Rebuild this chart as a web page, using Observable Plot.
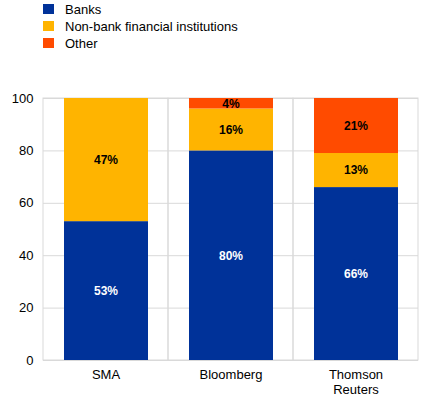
<!DOCTYPE html>
<html><head><meta charset="utf-8">
<script src="https://cdn.jsdelivr.net/npm/d3@7"></script>
<script src="https://cdn.jsdelivr.net/npm/@observablehq/plot@0.6"></script>
<style>
body{margin:0;background:#fff;font-family:"Liberation Sans",Arial,sans-serif;}
#legend{position:relative;height:50px;font-size:13px;color:#000;}
.item{position:absolute;left:43px;display:flex;align-items:center;height:12px;}
.sw{width:11px;height:10px;margin-right:11px;}
</style></head><body>
<div id="legend"></div>
<div id="chart"></div>
<script>
const sources = ["SMA", "Bloomberg", "Thomson\nReuters"];
const seriesNames = ["Banks", "Non-bank financial institutions", "Other"];
const colors = ["#003299", "#ffb400", "#ff4b00"];
const banks = [53, 80, 66];
const nonBank = [47, 16, 13];
const other = [0, 4, 21];
const yTicks = [0, 20, 40, 60, 80, 100];

const values = [banks, nonBank, other];
const data = [];
sources.forEach((s, i) => {
  seriesNames.forEach((n, j) => {
    data.push({source: s, series: n, value: values[j][i]});
  });
});

const legend = document.getElementById("legend");
seriesNames.forEach((n, j) => {
  const d = document.createElement("div");
  d.className = "item";
  d.style.top = (3 + j * 17) + "px";
  d.innerHTML = `<span class="sw" style="background:${colors[j]}"></span><span>${n}</span>`;
  legend.appendChild(d);
});

const frame = sources.map(s => ({source: s}));

const chart = Plot.plot({
  width: 438,
  height: 356,
  marginTop: 48,
  marginBottom: 46,
  marginLeft: 43,
  marginRight: 20,
  style: {fontFamily: "'Liberation Sans', Arial, sans-serif", fontSize: "13px", color: "#000", background: "#fff"},
  x: {domain: sources, padding: 0},
  y: {domain: [0, 100]},
  color: {domain: seriesNames, range: colors},
  marks: [
    Plot.gridY(yTicks, {stroke: "#d9d9d9", strokeOpacity: 1}),
    Plot.barY(frame, {x: "source", y1: 0, y2: 100, fill: "none", stroke: "#d9d9d9", strokeWidth: 1}),
    Plot.barY(data, {x: "source", y: "value", fill: "series", z: "series", insetLeft: 21, insetRight: 20}),
    Plot.text(data, Plot.stackY({
      x: "source", y: "value", z: "series",
      text: d => d.value > 0 ? d.value + "%" : "",
      fill: d => d.series === "Banks" ? "#fff" : "#000",
      fontWeight: "bold", fontSize: 12
    })),
    Plot.axisY(yTicks, {label: null, tickSize: 0, tickPadding: 10, fontSize: 13}),
    Plot.axisX({label: null, tickSize: 0, tickPadding: 8, fontSize: 13, lineHeight: 1.15})
  ]
});
document.getElementById("chart").appendChild(chart);
</script>
</body></html>
